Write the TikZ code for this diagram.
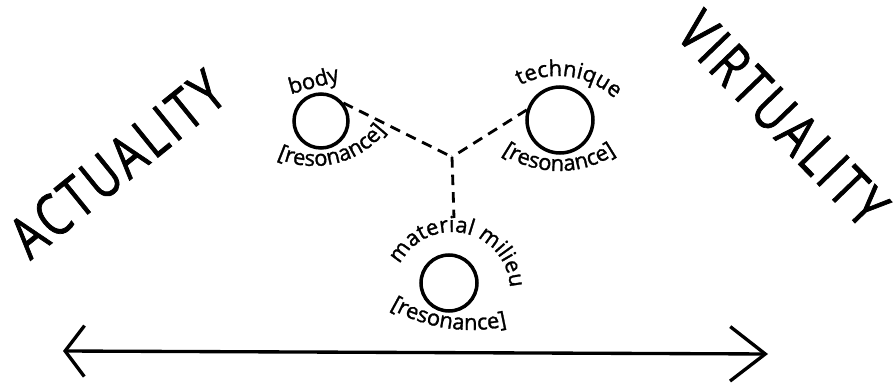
\documentclass[tikz,border=0pt]{standalone}
\usepackage{fontspec}
\setmainfont{Open Sans}[FakeBold=1.3]
\newfontfamily\capsfont{Open Sans}[FakeStretch=0.78, FakeBold=1.2, LetterSpace=6]
\newcommand{\tagfont}{\fontsize{12.5}{12.5}\selectfont}
\usetikzlibrary{arrows.meta, decorations.text, calc}
\tikzset{
    spot/.style={circle, draw, line width=2pt, inner sep=0pt, minimum size=#1},
    link/.style={line width=1.6pt, dash pattern=on 6pt off 4pt},
    span/.style={line width=1.9pt, line cap=round, line join=round,
        {Straight Barb[length=11pt, width=29pt, line width=1.9pt]}-{Straight Barb[length=20pt, width=31pt, line width=1.9pt]}},
    arclabel/.style={decorate, decoration={text along path, text align=center, text={|\tagfont|#1}}},
    bigword/.style={font=\capsfont\fontsize{33}{33}\selectfont, inner sep=0pt}
}
\begin{document}
\begin{tikzpicture}[x=0.02cm, y=0.02cm]
        \useasboundingbox (0,0) rectangle (894,-385);

        % the three spots
        \node[spot=1.08cm] (body) at (321,-121) {};
        \node[spot=1.32cm] (tech) at (560,-120) {};
        \node[spot=1.12cm] (milieu) at (449,-283) {};

        \coordinate (hub) at (452,-157);
        \coordinate (hubend) at (454,-218);

        \draw[link] (body.39) -- (hub);
        \draw[link] (tech.163) -- (hub);
        \draw[link] (hub) -- (hubend);

        % labels round the spots
        \path[arclabel={body}] (281,-97) -- (350,-78);
        \path[arclabel={[resonance]}] (314,-74) ++(240:92) arc[start angle=240, end angle=328, radius=92];

        \path[arclabel={technique}] (558,-158) ++(128:82) arc[start angle=128, end angle=36, radius=82];
        \path[arclabel={[resonance]}] (559,-68) ++(230:103) arc[start angle=230, end angle=310, radius=103];

        \path[arclabel={material milieu}] (452,-290) ++(178:58) arc[start angle=178, end angle=-22, radius=58];
        \path[arclabel={[resonance]}] (471,-167) ++(236:163) arc[start angle=236, end angle=287, radius=163];

        % the two poles
        \node[bigword, rotate=39] (actual) at (117,-164) {ACTUALITY};
        \node[bigword, rotate=-46] (virtual) at (783,-119) {VIRTUALITY};

        \coordinate (aend) at (63,-351);
        \coordinate (vend) at (768,-354);
        \draw[span] (aend) -- (vend);
    \end{tikzpicture}
\end{document}
